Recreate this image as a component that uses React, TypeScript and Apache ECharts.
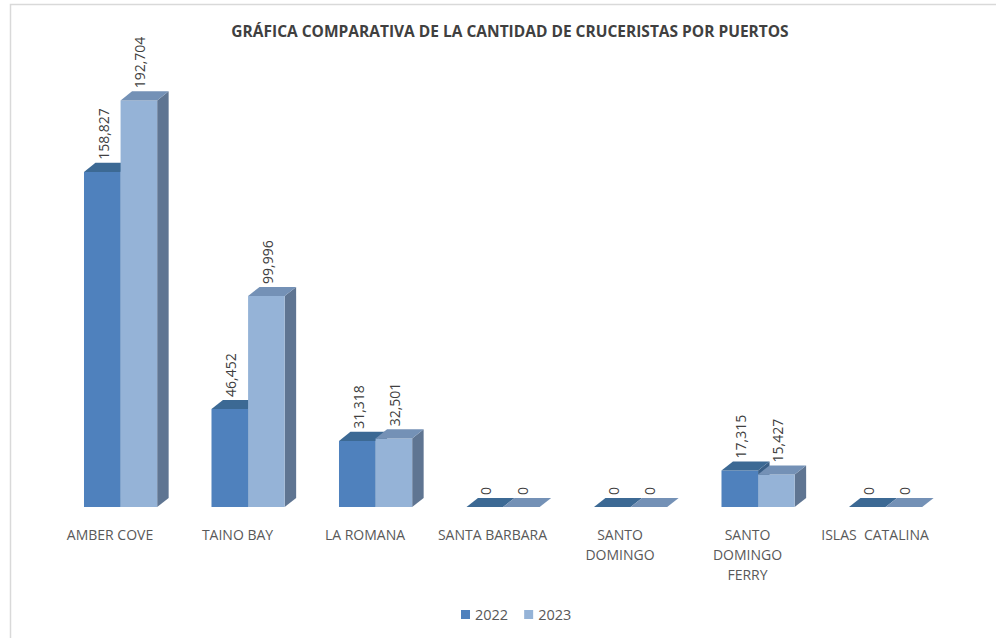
import React, { useEffect, useRef } from "react";
import * as echarts from "echarts";

const categories = [
  "AMBER COVE",
  "TAINO BAY",
  "LA ROMANA",
  "SANTA BARBARA",
  "SANTO DOMINGO",
  "SANTO DOMINGO FERRY",
  "ISLAS  CATALINA",
];
const categoryLabels = [
  "AMBER COVE",
  "TAINO BAY",
  "LA ROMANA",
  "SANTA BARBARA",
  "SANTO\nDOMINGO",
  "SANTO\nDOMINGO\nFERRY",
  "ISLAS  CATALINA",
];
const values2022 = [158827, 46452, 31318, 0, 0, 17315, 0];
const values2023 = [192704, 99996, 32501, 0, 0, 15427, 0];
const seriesNames = ["2022", "2023"];
const title = "GRÁFICA COMPARATIVA DE LA CANTIDAD DE CRUCERISTAS POR PUERTOS";

const palettes = [
  { front: "#4F81BD", top: "#3C6994", side: "#3A5F87" },
  { front: "#95B3D7", top: "#7491B6", side: "#5F7592" },
];

const FONT = "'Open Sans', sans-serif";

function makeRender(seriesIdx: number) {
  const pal = palettes[seriesIdx];
  return (params: any, api: any) => {
    const ci = api.value(0);
    const v = api.value(1);
    const [cx, yTop] = api.coord([ci, v]);
    const [, yBase] = api.coord([ci, 0]);
    const bw = api.size([1, 0])[0];
    const w = bw * 0.287;
    const x0 = cx - bw * 0.204 + seriesIdx * w;
    const x1 = x0 + w;
    const dx = bw * 0.09;
    const dy = -bw * 0.071;
    const children: any[] = [];
    if (yBase - yTop > 0.5) {
      children.push({
        type: "polygon",
        shape: { points: [[x1, yTop], [x1 + dx, yTop + dy], [x1 + dx, yBase + dy], [x1, yBase]] },
        style: { fill: pal.side },
      });
      children.push({
        type: "rect",
        shape: { x: x0, y: yTop, width: w, height: yBase - yTop },
        style: { fill: pal.front },
      });
    }
    children.push({
      type: "polygon",
      shape: { points: [[x0, yTop], [x1, yTop], [x1 + dx, yTop + dy], [x0 + dx, yTop + dy]] },
      style: { fill: pal.top },
    });
    children.push({
      type: "text",
      x: x0 + w / 2 + 1,
      y: yTop + dy - 3,
      rotation: Math.PI / 2,
      style: {
        text: Number(v).toLocaleString("en-US"),
        x: 0,
        y: 0,
        align: "left",
        verticalAlign: "middle",
        fill: "#404040",
        font: `14px ${FONT}`,
      },
    });
    return { type: "group", children };
  };
}

export default function App() {
  const ref = useRef<HTMLDivElement>(null);
  useEffect(() => {
    if (!ref.current) return;
    const chart = echarts.init(ref.current, null, { renderer: "svg" });
    chart.setOption({
      animation: false,
      backgroundColor: "#ffffff",
      graphic: [
        {
          type: "polyline",
          shape: { points: [[10.5, 640], [10.5, 4.5], [1000, 4.5]] },
          style: { stroke: "#d9d9d9", lineWidth: 1.5, fill: "none" },
          z: 10,
        },
        {
          type: "text",
          x: 510,
          y: 31,
          style: {
            text: title,
            align: "center",
            verticalAlign: "middle",
            fill: "#404040",
            font: `bold 15.5px ${FONT}`,
          },
        },
      ],
      legend: {
        data: seriesNames.map((n) => ({ name: n, icon: "rect" })),
        top: 602,
        left: 456,
        itemWidth: 9,
        itemHeight: 9,
        itemGap: 16,
        textStyle: { color: "#595959", fontSize: 14.5, fontFamily: FONT },
      },
      grid: { left: 46.25, right: 57.25, top: 85, bottom: 131 },
      xAxis: {
        type: "category",
        data: categories,
        axisLine: { show: false },
        axisTick: { show: false },
        axisLabel: {
          interval: 0,
          margin: 17,
          color: "#595959",
          fontSize: 14,
          fontFamily: FONT,
          lineHeight: 20,
          formatter: (_: string, i: number) => categoryLabels[i],
        },
      },
      yAxis: { type: "value", min: 0, max: 200000, show: false, splitLine: { show: false } },
      series: [
        {
          name: seriesNames[0],
          type: "custom",
          itemStyle: { color: palettes[0].front },
          renderItem: makeRender(0),
          data: values2022.map((v, i) => [i, v]),
          z: 2,
        },
        {
          name: seriesNames[1],
          type: "custom",
          itemStyle: { color: palettes[1].front },
          renderItem: makeRender(1),
          data: values2023.map((v, i) => [i, v]),
          z: 3,
        },
      ],
    });
    return () => chart.dispose();
  }, []);
  return (
    <div
      ref={ref}
      style={{ position: "fixed", left: 0, top: 0, width: 996, height: 638 }}
    />
  );
}
